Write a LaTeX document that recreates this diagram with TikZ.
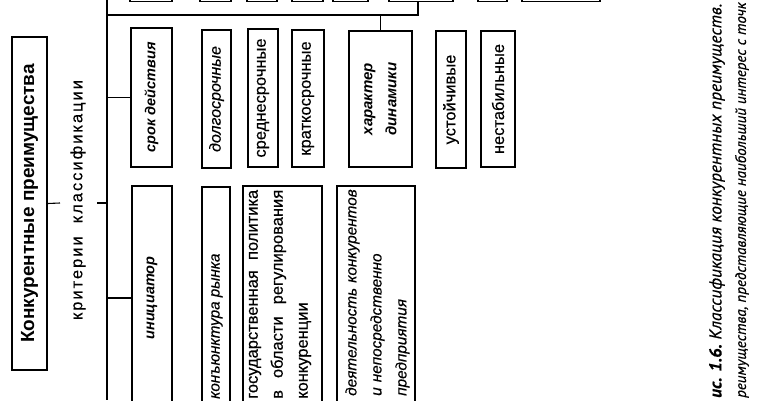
\documentclass[tikz,border=0pt]{standalone}
\usepackage{fontspec}
\setmainfont{Liberation Sans}
\newfontfamily\capfont{PT Sans}
\begin{document}
\begin{tikzpicture}[x=1pt,y=-1pt,
  box/.style={draw, line width=1.4pt, inner sep=0pt, rotate=90, anchor=center, align=center},
  conn/.style={line width=1.1pt},
  lbl/.style={rotate=90, inner sep=0pt},
  fr/.style={font=\fontsize{16.5}{19}\selectfont\addfontfeature{FakeBold=0.4}},
  fi/.style={font=\itshape\fontsize{16}{19}\selectfont\addfontfeature{FakeBold=0.4}},
  fbi/.style={font=\bfseries\itshape\fontsize{14.5}{17}\selectfont}]
\useasboundingbox (0,0) rectangle (758,400);
\fill[white] (0,0) rectangle (758,400);
\begin{scope}
\clip (0,0) rectangle (758,400);
% partial boxes at the top edge
\node[box, minimum width=41.5pt, minimum height=42pt] (t1) at (151,-19.25) {};
\node[box, minimum width=41.5pt, minimum height=31pt] (t2) at (215.5,-19.25) {};
\node[box, minimum width=41.5pt, minimum height=30pt] (t3) at (262,-19.25) {};
\node[box, minimum width=41.5pt, minimum height=31pt] (t4) at (307.5,-19.25) {};
\node[box, minimum width=41.5pt, minimum height=35pt] (t5) at (350.5,-19.25) {};
\node[box, minimum width=41.5pt, minimum height=64pt] (t6) at (421,-19.25) {};
\node[box, minimum width=41.5pt, minimum height=29pt] (t7) at (492.5,-19.25) {};
\node[box, minimum width=41.5pt, minimum height=78pt] (t8) at (561,-19.25) {};
% main box
\node[box, minimum width=333pt, minimum height=35pt,
  font=\bfseries\fontsize{19}{22}\selectfont] (main) at (29.5,203.5) {Конкурентные преимущества};
\node[lbl, font=\fontsize{16.5}{19}\selectfont\addfontfeature{LetterSpace=12,FakeBold=0.3}] (crit) at (78,200) {критерии\ \ классификации};
% second row
\node[box, minimum width=139pt, minimum height=41pt, fbi] (srok) at (151.5,97.5) {срок действия};
\node[box, minimum width=138pt, minimum height=29pt, fi] (dolg) at (216.5,99) {долгосрочные};
\node[box, minimum width=138pt, minimum height=30pt, fr] (sred) at (263,98) {среднесрочные};
\node[box, minimum width=137pt, minimum height=32pt, fr] (krat) at (308,98.5) {краткосрочные};
\node[box, minimum width=136pt, minimum height=63pt, font=\bfseries\itshape\fontsize{15}{24}\selectfont] (har) at (380.5,99) {характер\\динамики};
\node[box, minimum width=137pt, minimum height=30pt, fr] (ust) at (451,99.5) {устойчивые};
\node[box, minimum width=136pt, minimum height=34pt, fr] (nest) at (498,99) {нестабильные};
% third row
\node[box, minimum width=224pt, minimum height=40pt, fbi] (init) at (152,298) {инициатор};
\node[box, minimum width=223pt, minimum height=28pt] (konj) at (216,298.5) {};
\node[box, minimum width=224pt, minimum height=79pt] (gos) at (282.5,298) {};
\node[box, minimum width=224pt, minimum height=78pt] (deyat) at (376,298) {};
\node[lbl, anchor=west, font=\itshape\fontsize{15.2}{18}\selectfont\addfontfeature{FakeBold=0.4}] (tkonj) at (217,399) {конъюнктура рынка};
\node[lbl, anchor=west, align=left, text width=209pt, font=\fontsize{16.5}{25}\selectfont\addfontfeature{FakeBold=0.4}] (tgos) at (280,399)
  {государственная\hfill политика\\в\hfill области\hfill регулирования\\конкуренции};
\node[lbl, anchor=west, align=left, text width=225pt, font=\itshape\fontsize{15.3}{25}\selectfont\addfontfeature{FakeBold=0.4}] (tdeyat) at (377.5,396)
  {деятельность конкурентов\\и непосредственно\\предприятия};
% connectors
\coordinate (spT) at (107,0);
\coordinate (spB) at (107,400);
\coordinate (c1) at (60,203);
\coordinate (c2) at (97,203);
\coordinate (h1) at (107,15);
\coordinate (h2) at (418,15);
\draw[conn] (main.south) -- (c1);
\draw[conn] (c2) -- (c2 -| spT);
\draw[conn] (spT) -- (spB);
\draw[conn] (srok.north) -- (srok.north -| spT);
\draw[conn] (init.north) -- (init.north -| spT);
\draw[conn] (h1) -- (h2) -- (h2 |- t6.west);
\draw[conn] (har.east) -- (har.east |- h1);
% caption
\node[lbl, anchor=west, font=\capfont\itshape\fontsize{17.3}{20}\selectfont\addfontfeature{FakeBold=0.5}] (cap1) at (717,398)
  {\bfseries ис. 1.6.\mdseries\ Классификация конкурентных преимуществ.};
\node[lbl, anchor=west, font=\capfont\itshape\fontsize{15}{18}\selectfont\addfontfeature{FakeBold=0.5}] (cap2) at (742,398)
  {реимущества, представляющие наибольший интерес с точк};
\end{scope}
\end{tikzpicture}
\end{document}
